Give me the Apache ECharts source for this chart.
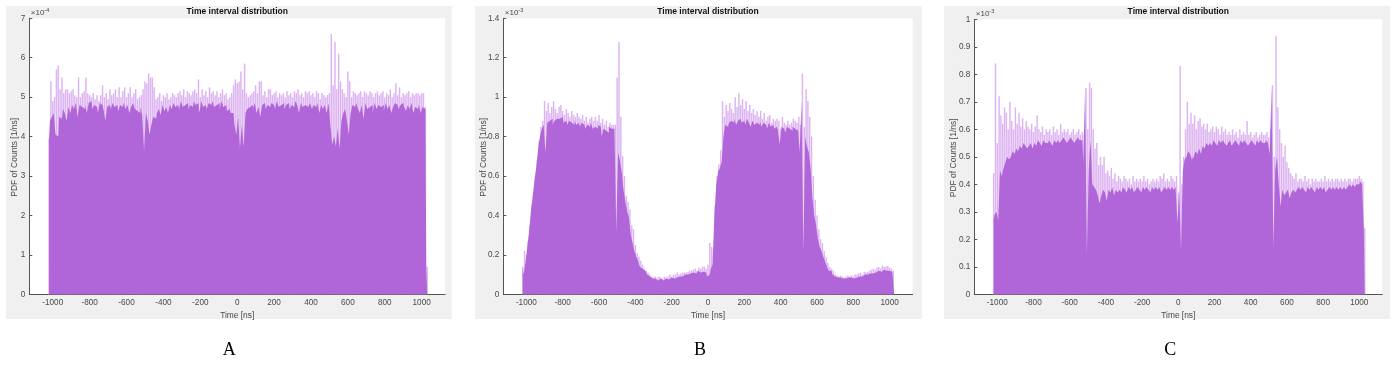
<!DOCTYPE html>
<html><head><meta charset="utf-8">
<script src="https://cdn.jsdelivr.net/npm/echarts@6/dist/echarts.min.js"></script>
<style>html,body{margin:0;padding:0;background:#fff}#c{width:1395px;height:368px}</style>
</head><body><div id="c"></div>
<script>
// Histogram bins: 10 ns wide, centres from -1020 ns to 1030 ns
const BIN_FIRST = -1020, BIN_WIDTH = 10, BIN_COUNT = 206;
const xTicks = [-1000, -800, -600, -400, -200, 0, 200, 400, 600, 800, 1000];
const titleText = 'Time interval distribution';
const xName = 'Time [ns]';
const yName = 'PDF of Counts [1/ns]';
const panelLetters = ['A', 'B', 'C'];
const exponents = ['-4', '-3', '-3'];
const yMax = [7, 1.4, 1];
const yStep = [1, 0.2, 0.1];

// Panel A (x 1e-4): dark body top and light spike top per bin
const A_base = [
3.95,4.4,4.5,4.6,4.05,4.0,4.5,4.45,4.7,4.6,
4.4,4.75,4.6,4.8,4.7,4.85,4.5,4.8,4.75,4.7,
4.8,4.6,4.85,4.9,4.7,4.8,4.75,4.6,4.85,4.8,
4.7,4.4,4.75,4.8,4.7,4.85,4.75,4.8,4.65,4.8,
4.75,4.85,4.7,4.8,4.6,4.75,4.85,4.7,4.65,4.6,
4.75,4.55,3.65,4.6,4.4,4.05,4.3,4.5,4.45,4.6,
4.7,4.55,4.8,4.65,4.75,4.6,4.8,4.7,4.85,4.75,
4.8,4.7,4.9,4.75,4.8,4.85,4.7,4.8,4.75,4.9,
4.8,4.85,4.6,4.9,4.75,4.8,4.7,4.85,4.8,4.9,
4.75,4.8,4.85,4.7,4.9,4.75,4.8,4.65,4.7,4.6,
4.6,4.3,4.05,4.5,3.7,4.3,3.75,4.6,4.7,4.75,
4.8,4.7,4.85,4.6,4.75,4.5,4.8,4.85,4.7,4.8,
4.75,4.85,4.8,4.7,4.9,4.75,4.8,4.85,4.7,4.8,
4.85,4.7,4.8,4.75,4.9,4.8,4.6,4.85,4.75,4.8,
4.75,4.8,4.85,4.7,4.8,4.75,4.85,4.6,4.8,4.7,
4.8,4.6,4.85,4.3,3.8,4.0,3.75,4.2,3.7,4.4,
4.6,4.7,4.4,4.05,4.6,4.8,4.75,4.85,4.7,4.6,
4.8,4.45,4.85,4.7,4.75,4.8,4.6,4.85,4.7,4.8,
4.75,4.8,4.65,4.85,4.7,4.8,4.6,4.75,4.85,4.8,
4.7,4.8,4.85,4.75,4.65,4.8,4.7,4.85,4.6,4.75,
4.7,4.8,4.6,4.75,4.7,0.7];
const A_top = [
3.95,5.4,4.9,5.0,5.7,5.8,5.2,5.5,5.1,5.2,
5.2,5.1,5.15,5.2,5.05,5.0,5.5,5.0,5.1,5.15,
5.5,5.1,5.05,5.0,5.1,4.95,5.05,4.9,5.05,5.3,
5.0,5.1,4.95,5.2,5.05,5.1,5.2,5.0,5.25,5.0,
5.15,5.25,5.0,5.1,5.25,5.0,5.1,5.2,4.95,5.0,
5.05,5.2,5.4,5.35,5.6,5.5,5.5,5.25,4.95,5.0,
5.1,4.9,5.05,5.0,5.1,4.95,5.0,5.1,5.05,5.0,
5.1,5.15,5.05,5.2,5.0,5.15,5.1,5.05,5.15,5.2,
5.1,5.45,5.0,5.2,5.05,5.15,5.0,5.25,5.1,5.15,
5.05,5.15,5.0,5.1,5.2,5.05,5.1,4.95,5.0,5.1,
5.3,5.45,5.35,5.4,5.65,5.2,5.85,5.1,5.0,5.05,
5.1,5.15,5.3,5.1,5.4,5.4,5.05,5.15,5.0,5.2,
5.2,5.05,5.1,5.15,5.0,5.1,5.05,5.1,5.0,5.15,
5.05,5.1,5.0,5.15,5.1,5.2,5.05,5.1,5.0,5.15,
5.1,5.15,5.05,5.1,5.0,5.15,5.1,4.95,5.1,5.05,
5.0,5.05,5.1,6.6,5.3,6.4,5.2,6.1,5.4,5.2,
5.1,5.0,5.65,5.4,5.0,5.15,5.1,5.05,5.1,5.15,
5.0,5.15,5.1,5.05,5.15,5.1,5.0,5.1,5.15,5.05,
5.1,5.15,5.0,5.1,5.05,5.2,5.0,5.1,5.35,5.05,
5.25,5.0,5.1,5.05,5.1,5.15,5.0,5.1,5.05,5.1,
5.1,5.05,5.1,5.1,4.75,0.7];

// Panel B (x 1e-3)
const B_base = [
0.13,0.10,0.16,0.24,0.32,0.42,0.50,0.58,0.65,0.74,
0.80,0.84,0.86,0.72,0.87,0.88,0.89,0.86,0.88,0.89,
0.89,0.88,0.90,0.87,0.88,0.86,0.88,0.87,0.86,0.88,
0.86,0.87,0.85,0.87,0.86,0.84,0.86,0.85,0.87,0.84,
0.85,0.84,0.86,0.85,0.80,0.84,0.83,0.82,0.85,0.84,
0.84,0.85,0.32,0.72,0.68,0.62,0.53,0.47,0.42,0.39,
0.30,0.26,0.22,0.19,0.17,0.14,0.13,0.12,0.11,0.10,
0.09,0.08,0.075,0.08,0.07,0.075,0.08,0.07,0.075,0.08,
0.075,0.08,0.085,0.08,0.09,0.085,0.09,0.095,0.09,0.10,
0.095,0.10,0.105,0.10,0.11,0.105,0.11,0.12,0.11,0.115,
0.12,0.11,0.09,0.10,0.13,0.15,0.40,0.55,0.62,0.64,
0.67,0.80,0.86,0.85,0.87,0.88,0.87,0.89,0.86,0.88,
0.89,0.87,0.88,0.86,0.89,0.87,0.85,0.88,0.86,0.87,
0.86,0.88,0.85,0.87,0.86,0.84,0.87,0.85,0.86,0.84,
0.85,0.83,0.76,0.85,0.84,0.82,0.85,0.84,0.83,0.85,
0.84,0.83,0.85,0.72,0.98,0.22,0.80,0.75,0.72,0.64,
0.49,0.40,0.35,0.28,0.24,0.22,0.19,0.165,0.14,0.12,
0.12,0.10,0.09,0.085,0.08,0.085,0.08,0.075,0.08,0.085,
0.08,0.085,0.08,0.09,0.085,0.09,0.095,0.09,0.10,0.095,
0.10,0.105,0.11,0.105,0.11,0.115,0.12,0.115,0.12,0.125,
0.12,0.125,0.12,0.115,0.11,0];
const B_top = [
0.14,0.22,0.20,0.27,0.35,0.45,0.52,0.60,0.68,0.78,
0.85,0.88,0.98,0.93,0.97,0.92,0.95,0.98,0.94,0.92,
0.95,0.96,0.93,0.91,0.94,0.92,0.90,0.93,0.91,0.90,
0.92,0.90,0.89,0.91,0.88,0.90,0.87,0.89,0.90,0.88,
0.90,0.88,0.91,0.87,0.89,0.86,0.88,0.85,0.87,0.86,
0.86,0.86,1.10,1.28,0.90,0.70,0.60,0.50,0.47,0.43,
0.35,0.33,0.25,0.21,0.19,0.17,0.15,0.13,0.12,0.11,
0.10,0.09,0.085,0.09,0.085,0.09,0.085,0.08,0.09,0.085,
0.09,0.10,0.09,0.10,0.10,0.11,0.10,0.105,0.11,0.11,
0.11,0.115,0.12,0.12,0.125,0.13,0.12,0.135,0.13,0.14,
0.14,0.13,0.15,0.26,0.24,0.23,0.45,0.60,0.66,0.73,
0.98,0.90,0.96,0.93,0.97,0.94,0.92,1.00,0.95,1.02,
0.96,0.99,0.94,0.98,0.93,0.96,0.92,0.94,0.91,0.93,
0.90,0.93,0.89,0.92,0.88,0.90,0.91,0.87,0.89,0.88,
0.89,0.88,0.84,0.90,0.87,0.86,0.88,0.86,0.87,0.89,
0.88,0.87,0.90,0.86,1.12,0.85,1.04,0.98,0.90,0.80,
0.60,0.48,0.40,0.33,0.28,0.26,0.22,0.19,0.16,0.14,
0.13,0.12,0.10,0.095,0.09,0.095,0.09,0.085,0.09,0.095,
0.09,0.095,0.09,0.10,0.10,0.105,0.11,0.10,0.115,0.11,
0.115,0.12,0.125,0.13,0.125,0.135,0.14,0.13,0.145,0.14,
0.14,0.145,0.135,0.13,0.12,0];

// Panel C (x 1e-3)
const C_base = [
0.27,0.29,0.30,0.27,0.45,0.43,0.46,0.48,0.50,0.49,
0.50,0.52,0.51,0.53,0.52,0.54,0.53,0.55,0.54,0.53,
0.54,0.55,0.53,0.55,0.54,0.56,0.55,0.54,0.56,0.55,
0.55,0.56,0.55,0.54,0.56,0.55,0.56,0.55,0.56,0.57,
0.56,0.55,0.56,0.57,0.56,0.55,0.56,0.57,0.56,0.56,
0.48,0.74,0.145,0.45,0.56,0.40,0.39,0.38,0.36,0.33,
0.36,0.38,0.37,0.34,0.38,0.37,0.39,0.36,0.38,0.37,
0.38,0.37,0.39,0.38,0.37,0.39,0.38,0.39,0.37,0.38,
0.39,0.38,0.37,0.39,0.38,0.39,0.38,0.37,0.39,0.38,
0.39,0.38,0.39,0.37,0.38,0.39,0.38,0.39,0.38,0.39,
0.38,0.39,0.26,0.38,0.16,0.45,0.49,0.50,0.52,0.51,
0.49,0.50,0.52,0.51,0.53,0.51,0.54,0.53,0.55,0.54,
0.55,0.54,0.56,0.55,0.54,0.56,0.55,0.56,0.55,0.54,
0.55,0.56,0.54,0.55,0.56,0.55,0.54,0.56,0.55,0.56,
0.55,0.54,0.55,0.56,0.55,0.54,0.56,0.55,0.56,0.55,
0.55,0.56,0.55,0.51,0.75,0.175,0.45,0.50,0.40,0.32,
0.38,0.36,0.37,0.38,0.35,0.37,0.38,0.37,0.38,0.39,
0.38,0.39,0.38,0.37,0.39,0.38,0.39,0.38,0.37,0.39,
0.38,0.39,0.38,0.39,0.37,0.38,0.39,0.38,0.39,0.38,
0.39,0.38,0.39,0.38,0.39,0.38,0.39,0.40,0.39,0.40,
0.39,0.40,0.40,0.41,0.40,0.24];
const C_top = [
0.44,0.84,0.55,0.72,0.65,0.62,0.68,0.66,0.60,0.70,
0.63,0.60,0.68,0.62,0.66,0.61,0.64,0.60,0.63,0.61,
0.60,0.62,0.59,0.61,0.65,0.60,0.59,0.61,0.58,0.60,
0.59,0.60,0.58,0.61,0.59,0.60,0.58,0.62,0.59,0.60,
0.59,0.60,0.58,0.59,0.60,0.58,0.59,0.60,0.58,0.59,
0.58,0.75,0.60,0.77,0.75,0.60,0.53,0.55,0.47,0.50,
0.47,0.50,0.44,0.45,0.43,0.46,0.42,0.44,0.41,0.43,
0.42,0.41,0.43,0.42,0.41,0.42,0.40,0.43,0.41,0.42,
0.41,0.42,0.41,0.43,0.41,0.42,0.40,0.41,0.42,0.41,
0.42,0.41,0.43,0.42,0.44,0.41,0.42,0.41,0.43,0.42,
0.41,0.43,0.37,0.83,0.40,0.50,0.60,0.70,0.62,0.66,
0.62,0.65,0.60,0.63,0.64,0.61,0.62,0.60,0.62,0.59,
0.60,0.61,0.59,0.61,0.60,0.58,0.61,0.59,0.60,0.58,
0.59,0.58,0.60,0.58,0.59,0.57,0.60,0.58,0.59,0.58,
0.63,0.58,0.59,0.57,0.58,0.59,0.57,0.58,0.59,0.58,
0.58,0.59,0.57,0.60,0.76,0.50,0.94,0.68,0.60,0.55,
0.50,0.54,0.48,0.46,0.44,0.43,0.42,0.44,0.41,0.42,
0.42,0.41,0.43,0.41,0.42,0.40,0.42,0.41,0.42,0.41,
0.41,0.42,0.41,0.43,0.41,0.42,0.41,0.42,0.41,0.42,
0.42,0.41,0.42,0.41,0.42,0.41,0.42,0.42,0.41,0.42,
0.42,0.42,0.43,0.42,0.41,0.24];

const baseSets = [A_base, B_base, C_base];
const topSets = [A_top, B_top, C_top];

const binCenters = Array.from({length: BIN_COUNT}, (_, i) => BIN_FIRST + i * BIN_WIDTH);
const pairs = arr => binCenters.map((c, i) => [c, arr[i]]);

const DARK = '#B066D8', LIGHT = '#DDB4F1', AXIS = '#555555', TXT = '#4a4a4a';
const panels = [
  {bg: [6, 6, 445.7, 313], grid: [29.3, 18.3, 415.8, 276], center: 237.2, yLabelX: 15},
  {bg: [475, 6, 446.7, 313], grid: [503.3, 18.3, 409.4, 276], center: 708, yLabelX: 483.3},
  {bg: [944, 6, 446, 313], grid: [974.3, 19.3, 408, 275], center: 1178.3, yLabelX: 953.3}
];
const FONT = '"Liberation Sans", Arial, sans-serif';

const grids = [], xAxes = [], yAxes = [], series = [], graphics = [];
panels.forEach((p, k) => {
  const [gl, gt, gw, gh] = p.grid;
  grids.push({left: gl, top: gt, width: gw, height: gh, containLabel: false});
  xAxes.push({
    type: 'value', gridIndex: k, min: -1127, max: 1127,
    axisLine: {show: true, onZero: false, lineStyle: {color: AXIS, width: 1}},
    axisTick: {show: true, inside: true, length: 3, customValues: xTicks, lineStyle: {color: AXIS}},
    axisLabel: {customValues: xTicks, formatter: v => String(v), fontSize: 8.2, color: TXT, margin: 4, fontFamily: FONT},
    splitLine: {show: false},
    name: xName, nameLocation: 'middle', nameGap: 12,
    nameTextStyle: {fontSize: 8.4, color: TXT, fontFamily: FONT}
  });
  yAxes.push({
    type: 'value', gridIndex: k, min: 0, max: yMax[k], interval: yStep[k],
    axisLine: {show: true, onZero: false, lineStyle: {color: AXIS, width: 1}},
    axisTick: {show: true, inside: true, length: 3, lineStyle: {color: AXIS}},
    axisLabel: {formatter: v => String(+v.toFixed(2)), fontSize: 8.2, color: TXT, margin: 4, fontFamily: FONT},
    splitLine: {show: false}
  });
  const pxPerNs = gw / 2254;
  series.push({
    type: 'bar', xAxisIndex: k, yAxisIndex: k, data: pairs(topSets[k]),
    barWidth: BIN_WIDTH * pxPerNs * 0.8, itemStyle: {color: LIGHT},
    silent: true, animation: false, z: 2
  });
  series.push({
    type: 'line', xAxisIndex: k, yAxisIndex: k, data: pairs(baseSets[k]),
    step: 'middle', symbol: 'none', lineStyle: {width: 0, opacity: 0},
    areaStyle: {color: DARK, opacity: 1}, silent: true, animation: false, z: 3
  });
  graphics.push({type: 'rect', z: -20, shape: {x: p.bg[0], y: p.bg[1], width: p.bg[2], height: p.bg[3]}, style: {fill: '#F0F0F0'}, silent: true});
  graphics.push({type: 'rect', z: -19, shape: {x: gl, y: gt, width: gw, height: gh}, style: {fill: '#FFFFFF'}, silent: true});
  graphics.push({type: 'text', z: 10, x: p.center, y: 12, style: {text: titleText, align: 'center', verticalAlign: 'middle', font: 'bold 8.5px ' + FONT, fill: '#111'}});
  graphics.push({type: 'text', z: 10, x: p.yLabelX, y: gt + gh / 2 + 1, rotation: Math.PI / 2,
    style: {text: yName, align: 'center', verticalAlign: 'middle', font: '8.5px ' + FONT, fill: TXT}});
  graphics.push({type: 'text', z: 10, x: gl + 1.5, y: gt - 5.5,
    style: {text: '×10{s|' + exponents[k] + '}', align: 'left', verticalAlign: 'middle', font: '8px ' + FONT, fill: TXT,
      rich: {s: {fontSize: 5.5, fontFamily: FONT, fill: TXT, verticalAlign: 'top', padding: [0, 0, 5, 0]}}}});
  graphics.push({type: 'text', z: 10, x: p.center - 8, y: 350,
    style: {text: panelLetters[k], align: 'center', verticalAlign: 'middle', font: '18px "Liberation Serif", "Times New Roman", serif', fill: '#000'}});
});

const chart = echarts.init(document.getElementById('c'), null, {renderer: 'canvas'});
chart.setOption({
  backgroundColor: '#ffffff',
  animation: false,
  grid: grids, xAxis: xAxes, yAxis: yAxes, series: series, graphic: graphics
});
</script></body></html>
